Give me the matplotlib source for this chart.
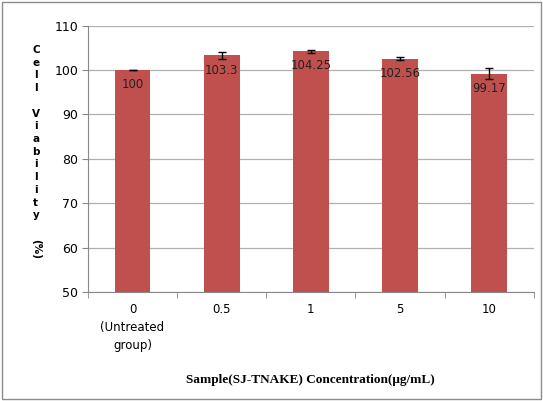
import numpy as np
import matplotlib
matplotlib.use("Agg")
import matplotlib.pyplot as plt
from matplotlib.patches import Rectangle

categories = ["0\n(Untreated\ngroup)", "0.5", "1", "5", "10"]
viability = [100, 103.3, 104.25, 102.56, 99.17]
errors = [0.05, 0.8, 0.3, 0.3, 1.2]
value_labels = ["100", "103.3", "104.25", "102.56", "99.17"]

fig = plt.figure(figsize=(5.43, 4.01), dpi=100)
fig.patches.append(Rectangle((0.004, 0.004), 0.992, 0.99, transform=fig.transFigure,
                             fill=False, edgecolor="#8c8c8c", linewidth=1.0))
ax = fig.add_axes([0.162, 0.272, 0.821, 0.664])

x = np.arange(len(categories))
ax.bar(x, viability, width=0.4, color="#C0504D", zorder=3)
ax.errorbar(x, viability, yerr=errors, fmt="none", ecolor="black",
            elinewidth=1.0, capsize=3, capthick=1.0, zorder=4)
for xi, v, lab in zip(x, viability, value_labels):
    ax.text(xi, v - 3.3, lab, ha="center", va="center", fontsize=8.5, color="#222222", zorder=5)

ax.set_ylim(50, 110)
ax.set_yticks(range(50, 111, 10))
ax.set_xlim(-0.5, 4.5)
ax.set_xticks(x)
ax.set_xticklabels(categories, fontsize=8.5, linespacing=1.5)
ax.set_xticks(np.arange(-0.5, 5, 1), minor=True)
ax.tick_params(axis="x", which="major", length=0, pad=8)
ax.tick_params(axis="x", which="minor", length=4, color="#888888")
ax.tick_params(axis="y", labelsize=9, length=4, color="#888888", pad=3)
ax.grid(axis="y", color="#b0b0b0", linewidth=0.9, zorder=0)
for s in ["top", "right"]:
    ax.spines[s].set_visible(False)
for s in ["left", "bottom"]:
    ax.spines[s].set_color("#888888")

fig.text(0.066, 0.888, "C\ne\nl\nl\n\nV\ni\na\nb\ni\nl\ni\nt\ny", ha="center", va="top",
         fontsize=7.5, fontweight="bold", linespacing=1.34)
fig.text(0.066, 0.378, "(%)", ha="center", va="center", rotation=-90,
         fontsize=7.5, fontweight="bold")
fig.text(0.571, 0.052, "Sample(SJ-TNAKE) Concentration(\u03bcg/mL)", ha="center", va="center",
         fontsize=9.5, fontweight="bold", family="Liberation Serif")

fig.savefig("out.png", dpi=100)
